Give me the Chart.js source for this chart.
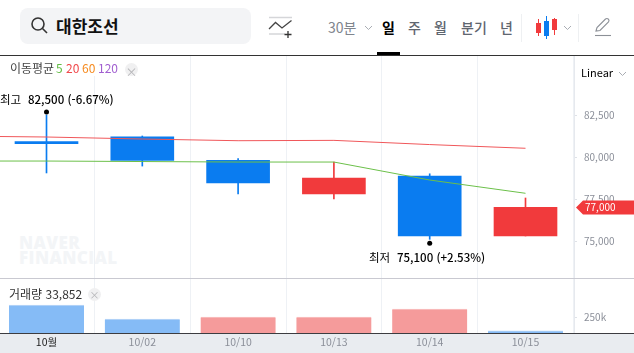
<!DOCTYPE html>
<html lang="ko">
<head>
<meta charset="utf-8">
<script src="https://cdn.jsdelivr.net/npm/chart.js@4/dist/chart.umd.min.js"></script>
<style>
    html, body { margin: 0; padding: 0; background: #fff; }
    body { width: 634px; height: 353px; position: relative; overflow: hidden; font-family: "Noto Sans CJK KR", "Noto Sans", sans-serif; }
    .abs { position: absolute; white-space: nowrap; }
    canvas { position: absolute; left: 0; }
    #searchBox { left: 20px; top: 8px; width: 231px; height: 36px; background: #f3f4f6; border-radius: 8px; }
    #stockName { left: 56px; top: 14px; font-size: 17px; line-height: 24px; font-weight: 700; color: #111; }
    .tab { top: 16px; font-size: 14px; line-height: 22px; color: #5f6670; font-weight: 500; }
    #legendBox { left: 0; top: 56px; width: 145px; height: 20px; background: #fff; }
    #legendBox span { position: absolute; top: 3px; font-size: 12px; line-height: 17px; }
    #volLabel { left: 9px; top: 285px; font-size: 12px; line-height: 17px; color: #333; }
    .closeBtn { width: 13px; height: 13px; border-radius: 50%; background: #f0f0f1; color: #b5b5b8; font-size: 10px; line-height: 13px; text-align: center; }
    #watermark { left: 19px; top: 236px; font-family: "Open Sans", sans-serif; font-size: 17px; line-height: 14.5px; font-weight: 800; color: #f3f5f7; letter-spacing: 0.4px; }
    #xBand { left: 0; top: 334px; width: 634px; height: 19px; background: #e9ecf0; }
</style>
</head>
<body>
<!-- 상단 검색/탭 영역 -->
<div class="abs" id="searchBox"></div>
<svg class="abs" style="left:30px;top:16px" width="20" height="20" viewBox="0 0 20 20" fill="none" stroke="#333" stroke-width="1.6">
    <circle cx="8" cy="8" r="6"></circle><path d="M12.5 12.5L17 17"></path>
</svg>
<div class="abs" id="stockName">대한조선</div>
<svg class="abs" style="left:268px;top:16px" width="26" height="24" viewBox="0 0 26 24" fill="none" stroke-width="1.3">
    <path d="M1 1.5H24M1 18H17" stroke="#d5d6d9"></path>
    <path d="M1 13L7.5 6.5L14 12L23.5 4.5" stroke="#444"></path>
    <path d="M20 15V22M16.5 18.5H23.5" stroke="#333"></path>
</svg>
<div class="abs tab" style="left:328px;color:#80858d;font-weight:400">30분</div>
<svg class="abs" style="left:364px;top:25px" width="9" height="6" fill="none" stroke="#a9adb3"><path d="M1 1L4.5 4.5L8 1"></path></svg>
<div class="abs tab" style="left:382px;color:#000;font-weight:700">일</div>
<div class="abs tab" style="left:408px">주</div>
<div class="abs tab" style="left:434px">월</div>
<div class="abs tab" style="left:461px">분기</div>
<div class="abs tab" style="left:500px">년</div>
<div class="abs" style="left:377px;top:52px;width:23px;height:3px;background:#000"></div>
<div class="abs" style="left:521px;top:14px;width:1px;height:28px;background:#eef0f2"></div>
<div class="abs" style="left:578px;top:14px;width:1px;height:28px;background:#eef0f2"></div>
<svg class="abs" style="left:535px;top:16px" width="24" height="24">
    <path d="M3.5 3V20M19.5 2V19" stroke="#f13a3c"></path><path d="M11.5 0V23" stroke="#0a7cf0"></path>
    <rect x="1" y="7" width="5" height="10" fill="#f13a3c"></rect><rect x="9" y="5" width="5" height="15" fill="#0a7cf0"></rect><rect x="17" y="3" width="5" height="11" fill="#f13a3c"></rect>
</svg>
<svg class="abs" style="left:563px;top:25px" width="9" height="6" fill="none" stroke="#a9adb3"><path d="M1 1L4.5 4.5L8 1"></path></svg>
<svg class="abs" style="left:594px;top:17px" width="18" height="20" fill="none" stroke="#8c9097" stroke-width="1.1">
    <path d="M2 14L3 10.5L11.5 2Q13 1 14.5 2.2Q15.5 3.5 14.5 5L6 13.5Z"></path><path d="M1 18.5H17"></path>
</svg>
<div class="abs" style="left:0;top:55px;width:634px;height:1px;background:#333"></div>

<div class="abs" id="watermark">NAVER<br>FINANCIAL</div>
<div class="abs" id="xBand"></div>
<canvas id="priceChart" width="634" height="222" style="top:56px"></canvas>
<canvas id="volumeChart" width="634" height="74" style="top:279px"></canvas>
<div class="abs" style="left:0;top:278px;width:634px;height:1px;background:#c9c9d1"></div>
<div class="abs" style="left:0;top:333px;width:634px;height:1px;background:#3c3c40"></div>

<div class="abs" id="legendBox">
    <span style="left:10px;color:#444">이동평균</span>
    <span style="left:56px;color:#62bd45">5</span>
    <span style="left:66px;color:#f0474a">20</span>
    <span style="left:82px;color:#f68a1e">60</span>
    <span style="left:98px;color:#a15fd0">120</span>
    <span class="closeBtn" style="left:125px;top:7px">×</span>
</div>
<div class="abs" style="left:581px;top:64px;font-size:11px;line-height:16px;color:#000">Linear</div>
<svg class="abs" style="left:618px;top:71px" width="9" height="6" fill="none" stroke="#a9adb3"><path d="M1 1L4.5 4.5L8 1"></path></svg>
<div class="abs" id="volLabel">거래량 33,852</div>
<div class="abs closeBtn" style="left:88px;top:288px">×</div>

<script>
// ========== 데이터 ==========
const xLabels = ['10월', '10/02', '10/10', '10/13', '10/14', '10/15'];
const opens = [80800, 81200, 79800, 77800, 78870, 75300];
const closes = [80800, 79800, 78450, 78750, 75300, 77000];
const highs = [82500, 81250, 79900, 79700, 79000, 77560];
const lows = [79050, 79460, 77800, 77500, 75100, 75300];
const volumes = [437000, 219000, 250000, 250000, 375000, 33852];

// 이동평균은 왼쪽 화면 밖 거래일(-1)부터 이어진다
const maDays = [-1, 0, 1, 2, 3, 4, 5];
const ma5 = [79760, 79760, 79730, 79700, 79700, 78630, 77840];
const ma20 = [81250, 81190, 81070, 80970, 80990, 80740, 80520];

const priceTicks = [82500, 80000, 77500, 75000];
const volumeTicks = [250000];
const lastPrice = 77000;

// ========== 공통 설정 ==========
const UP = '#f13a3c';
const DOWN = '#0a7cf0';
const FONT = '"Noto Sans CJK KR", "Noto Sans", sans-serif';
const DAY_WIDTH = 95.8;
const AREA_WIDTH = 574;
const X_MIN = -46.5 / DAY_WIDTH;
const X_MAX = X_MIN + AREA_WIDTH / DAY_WIDTH;

const candleColors = opens.map((o, i) => (closes[i] > o ? UP : DOWN));
// 거래량 색은 전일 거래량 대비
const volumeRising = volumes.map((v, i) => i > 0 && v >= volumes[i - 1]);
const dayGrid = { color: '#eef1f5', lineWidth: 1, drawTicks: false };

function dayTicks(axis) {
    axis.ticks = xLabels.map((_, i) => ({ value: i }));
}

function valueAxis(ticks, format) {
    return {
        position: 'right',
        afterFit: axis => {
            axis.width = 60;
            // 눈금 글자 높이만큼 영역이 줄어들지 않게
            axis.paddingTop = 0;
            axis.paddingBottom = 0;
        },
        afterBuildTicks: axis => { axis.ticks = ticks.map(v => ({ value: v })); },
        grid: { drawOnChartArea: false, tickLength: 3, tickColor: '#dfe2e7' },
        border: { display: true, color: '#e6e9ee' },
        ticks: { color: '#8b8f99', padding: 7, font: { family: FONT, size: 10 }, callback: format }
    };
}

// ========== 최고/최저 표시와 현재가 태그 ==========
const markerPlugin = {
    id: 'priceMarkers',
    afterDraw(chart) {
        const ctx = chart.ctx;
        const xs = chart.scales.x;
        const ys = chart.scales.y;
        const hi = highs.indexOf(Math.max(...highs));
        const lo = lows.indexOf(Math.min(...lows));

        ctx.save();
        ctx.fillStyle = '#000';
        [[hi, highs[hi], -3], [lo, lows[lo], 4]].forEach(([i, v, dy]) => {
            ctx.beginPath();
            ctx.arc(xs.getPixelForValue(i), ys.getPixelForValue(v) + dy, 2.5, 0, Math.PI * 2);
            ctx.fill();
        });

        ctx.textBaseline = 'middle';
        ctx.font = `11.5px ${FONT}`;
        ctx.fillText('최고', 0, ys.getPixelForValue(highs[hi]) - 15);
        ctx.fillText('최저', 369, ys.getPixelForValue(lows[lo]) + 18);
        ctx.font = `500 11.5px ${FONT}`;
        ctx.fillText('82,500 (-6.67%)', 28, ys.getPixelForValue(highs[hi]) - 15);
        ctx.fillText('75,100 (+2.53%)', 397, ys.getPixelForValue(lows[lo]) + 18);

        // 현재가 태그
        const y = ys.getPixelForValue(lastPrice);
        ctx.fillStyle = UP;
        ctx.beginPath();
        ctx.moveTo(576, y);
        ctx.lineTo(583, y - 7);
        ctx.lineTo(634, y - 7);
        ctx.lineTo(634, y + 7);
        ctx.lineTo(583, y + 7);
        ctx.closePath();
        ctx.fill();
        ctx.fillStyle = '#fff';
        ctx.font = `10px ${FONT}`;
        ctx.fillText(lastPrice.toLocaleString('en-US'), 585, y);
        ctx.restore();
    }
};

// ========== 가격 차트 ==========
new Chart(document.getElementById('priceChart'), {
    type: 'bar',
    data: {
        datasets: [
            {
                label: '이동평균 20',
                type: 'line',
                data: maDays.map((d, i) => ({ x: d, y: ma20[i] })),
                borderColor: '#f0575a',
                borderWidth: 1,
                pointRadius: 0,
                tension: 0,
                order: 0
            },
            {
                label: '이동평균 5',
                type: 'line',
                data: maDays.map((d, i) => ({ x: d, y: ma5[i] })),
                borderColor: '#6cc04a',
                borderWidth: 1,
                pointRadius: 0,
                tension: 0,
                order: 0
            },
            {
                label: '몸통',
                data: xLabels.map((_, i) => ({ x: i, y: [opens[i], closes[i]] })),
                backgroundColor: candleColors,
                barThickness: 63,
                minBarLength: 2,
                grouped: false,
                order: 1
            },
            {
                label: '꼬리',
                data: xLabels.map((_, i) => ({ x: i, y: [lows[i], highs[i]] })),
                backgroundColor: candleColors,
                barThickness: 1,
                grouped: false,
                order: 2
            }
        ]
    },
    options: {
        responsive: false,
        animation: false,
        layout: { padding: 0, autoPadding: false },
        plugins: { legend: { display: false }, tooltip: { enabled: false } },
        scales: {
            x: {
                type: 'linear',
                offset: false,
                min: X_MIN,
                max: X_MAX,
                afterBuildTicks: dayTicks,
                afterFit: axis => { axis.height = 0; },
                grid: dayGrid,
                border: { display: false },
                ticks: { display: false }
            },
            y: Object.assign(valueAxis(priceTicks, v => v.toLocaleString('en-US')), { min: 72798, max: 86012 })
        }
    },
    plugins: [markerPlugin]
});

// ========== 거래량 차트 ==========
new Chart(document.getElementById('volumeChart'), {
    type: 'bar',
    data: {
        datasets: [{
            label: '거래량',
            data: xLabels.map((_, i) => ({ x: i, y: volumes[i] })),
            backgroundColor: volumeRising.map(up => (up ? '#f59b9b' : '#85bbf6')),
            borderColor: volumeRising.map(up => (up ? '#f8c3c3' : '#bfd9f7')),
            borderWidth: { top: 1, left: 0, right: 0, bottom: 0 },
            borderSkipped: false,
            barThickness: 75
        }]
    },
    options: {
        responsive: false,
        animation: false,
        layout: { padding: 0, autoPadding: false },
        plugins: { legend: { display: false }, tooltip: { enabled: false } },
        scales: {
            x: {
                type: 'linear',
                offset: false,
                min: X_MIN,
                max: X_MAX,
                afterBuildTicks: dayTicks,
                afterFit: axis => { axis.height = 20; },
                grid: dayGrid,
                border: { display: false },
                ticks: {
                    autoSkip: false,
                    maxRotation: 0,
                    padding: 3,
                    font: { family: FONT, size: 10.5 },
                    color: ctx => (ctx.index === 0 ? '#222' : '#8b8f99'),
                    callback: v => xLabels[v]
                }
            },
            y: Object.assign(valueAxis(volumeTicks, v => `${v / 1000}k`), { min: 0, max: 843750 })
        }
    }
});
</script>
</body>
</html>
